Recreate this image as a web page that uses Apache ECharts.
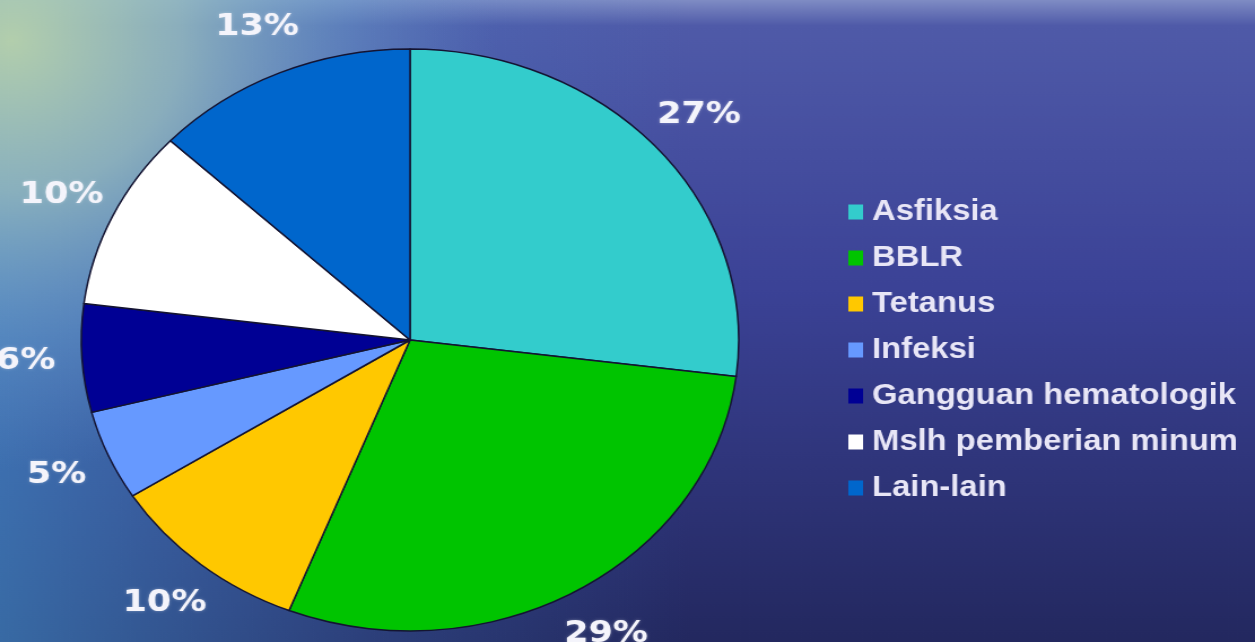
<!DOCTYPE html>
<html>
<head>
<meta charset="utf-8">
<script src="https://cdn.jsdelivr.net/npm/echarts@6/dist/echarts.min.js"></script>
<style>
  html, body { margin: 0; padding: 0; overflow: hidden; background: #2b3078; }
  /* the source picture is stretched sideways, so the chart is too */
  #main { width: 1111px; height: 642px; transform: scaleX(1.1296); transform-origin: 0 0; }
</style>
</head>
<body>
<div id="main"></div>
<script>
const categories = ['Asfiksia', 'BBLR', 'Tetanus', 'Infeksi', 'Gangguan hematologik', 'Mslh pemberian minum', 'Lain-lain']
const percentages = [27, 29, 10, 5, 6, 10, 13]
const sliceColors = ['#33cccc', '#00c400', '#ffc800', '#6699ff', '#000094', '#ffffff', '#0066cc']

let myChart = echarts.init(document.getElementById('main'))

let pieData = categories.map((name, i) => ({
  name: name,
  value: percentages[i],
  itemStyle: { color: sliceColors[i] }
}))

let option = {
  animation: false,
  backgroundColor: {
    type: 'linear', x: 0, y: 0, x2: 0, y2: 1,
    colorStops: [
      { offset: 0, color: '#7f8cc4' },
      { offset: 0.04, color: '#4f5aa8' },
      { offset: 0.45, color: '#3b4296' },
      { offset: 1, color: '#23285f' }
    ]
  },
  graphic: [
    {
      // bluish water on the left
      type: 'rect', z: -10, silent: true,
      shape: { x: 0, y: 0, width: 1111, height: 642 },
      style: {
        fill: {
          type: 'linear', x: 0, y: 0, x2: 1, y2: 0,
          colorStops: [
            { offset: 0, color: 'rgba(70,150,210,0.6)' },
            { offset: 0.3, color: 'rgba(70,130,200,0.25)' },
            { offset: 0.55, color: 'rgba(70,130,200,0)' }
          ]
        }
      }
    },
    {
      // sky glow top left
      type: 'rect', z: -9, silent: true,
      shape: { x: 0, y: 0, width: 1111, height: 642 },
      style: {
        fill: {
          type: 'radial', x: 10, y: 40, r: 430, global: true,
          colorStops: [
            { offset: 0, color: 'rgba(190,215,170,0.9)' },
            { offset: 0.35, color: 'rgba(160,195,190,0.75)' },
            { offset: 0.7, color: 'rgba(120,170,205,0.35)' },
            { offset: 1, color: 'rgba(110,150,200,0)' }
          ]
        }
      }
    }
  ],
  legend: {
    orient: 'vertical',
    left: 746,
    top: 192,
    itemWidth: 13,
    itemHeight: 15,
    itemGap: 16,
    icon: 'rect',
    selectedMode: false,
    data: categories,
    itemStyle: { borderWidth: 0 },
    textStyle: {
      color: '#e8e6f6',
      fontFamily: 'Liberation Sans',
      fontWeight: 'bold',
      fontSize: 29,
      lineHeight: 30,
      padding: [0, 0, 0, 3]
    }
  },
  series: [
    {
      name: 'Penyebab',
      type: 'pie',
      center: [363, 340],
      radius: [0, 291],
      startAngle: 90,
      data: pieData,
      label: { show: false },
      labelLine: { show: false },
      itemStyle: { borderColor: '#141432', borderWidth: 1.5 },
      emphasis: { disabled: true }
    },
    {
      // transparent ring that only carries the percentage labels
      name: 'label',
      type: 'pie',
      center: [363, 340],
      radius: [318, 358],
      startAngle: 90,
      silent: true,
      legendHoverLink: false,
      data: pieData.map(d => ({ name: d.name, value: d.value })),
      itemStyle: { color: 'rgba(0,0,0,0)' },
      label: {
        show: true,
        position: 'inside',
        formatter: '{c}%',
        color: '#f4f4fb',
        fontFamily: 'DejaVu Sans',
        fontWeight: 'bold',
        fontSize: 31,
        textShadowColor: 'rgba(255,255,255,0.35)',
        textShadowBlur: 3
      },
      labelLine: { show: false },
      emphasis: { disabled: true }
    }
  ]
}

myChart.setOption(option)
</script>
</body>
</html>
